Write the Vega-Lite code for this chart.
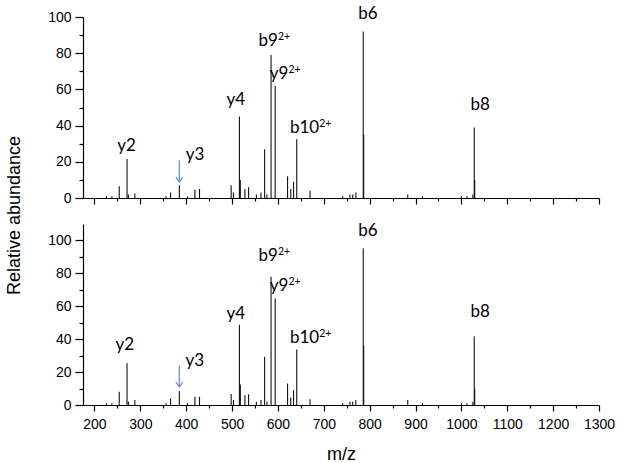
{
  "$schema": "https://vega.github.io/schema/vega-lite/v6.json",
  "padding": {"left": 5, "top": 5, "right": 5, "bottom": 5},
  "background": "white",
  "bounds": "flush",
  "spacing": 26,
  "config": {
    "view": {"stroke": null},
    "axis": {
      "grid": false,
      "domainColor": "#000",
      "tickColor": "#000",
      "labelColor": "#000",
      "titleColor": "#000",
      "labelFont": "Liberation Sans",
      "titleFont": "Liberation Sans",
      "labelFontSize": 14,
      "titleFontSize": 18,
      "titleFontWeight": "normal",
      "domainWidth": 1.2,
      "tickWidth": 1.2,
      "labelOverlap": false,
      "labelFlush": false,
      "format": "d"
    }
  },
  "datasets": {
    "peaksTop": [
      {"mz": 226, "ab": 1}, {"mz": 238, "ab": 1}, {"mz": 254, "ab": 6.5}, {"mz": 271, "ab": 21.5},
      {"mz": 274, "ab": 2}, {"mz": 288, "ab": 2.5}, {"mz": 356, "ab": 1}, {"mz": 366, "ab": 3},
      {"mz": 385, "ab": 7}, {"mz": 403, "ab": 1}, {"mz": 419, "ab": 4.5}, {"mz": 429, "ab": 5},
      {"mz": 498, "ab": 7}, {"mz": 503, "ab": 3}, {"mz": 516, "ab": 45}, {"mz": 518, "ab": 10},
      {"mz": 528, "ab": 5}, {"mz": 536, "ab": 6}, {"mz": 553, "ab": 2}, {"mz": 563, "ab": 3},
      {"mz": 571, "ab": 27}, {"mz": 576, "ab": 2}, {"mz": 585, "ab": 79}, {"mz": 594, "ab": 62},
      {"mz": 621, "ab": 12}, {"mz": 628, "ab": 5}, {"mz": 634, "ab": 9}, {"mz": 641, "ab": 32.5},
      {"mz": 670, "ab": 4}, {"mz": 741, "ab": 1}, {"mz": 757, "ab": 2}, {"mz": 763, "ab": 2},
      {"mz": 770, "ab": 3}, {"mz": 786, "ab": 92}, {"mz": 787, "ab": 35}, {"mz": 883, "ab": 2},
      {"mz": 915, "ab": 1}, {"mz": 1000, "ab": 1}, {"mz": 1012, "ab": 1}, {"mz": 1025, "ab": 2},
      {"mz": 1028, "ab": 39}, {"mz": 1029, "ab": 10}
    ],
    "peaksBottom": [
      {"mz": 226, "ab": 1}, {"mz": 238, "ab": 1}, {"mz": 254, "ab": 8}, {"mz": 271, "ab": 25.6},
      {"mz": 274, "ab": 2}, {"mz": 288, "ab": 3}, {"mz": 356, "ab": 1}, {"mz": 366, "ab": 4},
      {"mz": 385, "ab": 8.5}, {"mz": 403, "ab": 1}, {"mz": 419, "ab": 5}, {"mz": 429, "ab": 5},
      {"mz": 498, "ab": 6.7}, {"mz": 503, "ab": 3}, {"mz": 516, "ab": 48.7}, {"mz": 518, "ab": 12.5},
      {"mz": 528, "ab": 6}, {"mz": 536, "ab": 6.5}, {"mz": 553, "ab": 2}, {"mz": 563, "ab": 3},
      {"mz": 571, "ab": 29.3}, {"mz": 576, "ab": 2}, {"mz": 585, "ab": 78}, {"mz": 594, "ab": 64.7},
      {"mz": 621, "ab": 13}, {"mz": 628, "ab": 4.5}, {"mz": 634, "ab": 9}, {"mz": 641, "ab": 33.7},
      {"mz": 670, "ab": 3.5}, {"mz": 741, "ab": 1}, {"mz": 757, "ab": 2}, {"mz": 763, "ab": 2},
      {"mz": 770, "ab": 3}, {"mz": 786, "ab": 95.3}, {"mz": 787, "ab": 36}, {"mz": 883, "ab": 3},
      {"mz": 915, "ab": 1}, {"mz": 1000, "ab": 1}, {"mz": 1012, "ab": 1}, {"mz": 1025, "ab": 2},
      {"mz": 1028, "ab": 41.8}, {"mz": 1029, "ab": 10}
    ],
    "labelsTop": [
      {"label": "y2", "sup": "", "x": 270, "y": 26},
      {"label": "y3", "sup": "", "x": 419.5, "y": 20.8},
      {"label": "y4", "sup": "", "x": 508, "y": 51.4},
      {"label": "b9", "sup": "2+", "x": 600, "y": 84},
      {"label": "y9", "sup": "2+", "x": 623, "y": 65.6},
      {"label": "b10", "sup": "2+", "x": 690, "y": 36},
      {"label": "b6", "sup": "", "x": 796, "y": 98.7},
      {"label": "b8", "sup": "", "x": 1041, "y": 48.5}
    ],
    "labelsBottom": [
      {"label": "y2", "sup": "", "x": 266, "y": 33.7},
      {"label": "y3", "sup": "", "x": 419, "y": 24},
      {"label": "y4", "sup": "", "x": 508, "y": 52.5},
      {"label": "b9", "sup": "2+", "x": 600, "y": 87.3},
      {"label": "y9", "sup": "2+", "x": 623, "y": 69.5},
      {"label": "b10", "sup": "2+", "x": 690, "y": 37.8},
      {"label": "b6", "sup": "", "x": 796, "y": 103},
      {"label": "b8", "sup": "", "x": 1041, "y": 53.3}
    ],
    "arrowTop": [{"mz": 385, "from": 20.8, "to": 8.8}],
    "arrowBottom": [{"mz": 385, "from": 24, "to": 11}]
  },
  "vconcat": [
    {
      "width": 516,
      "height": 181,
      "resolve": {"axis": {"x": "independent", "y": "independent"}},
      "layer": [
        {
          "data": {"name": "peaksTop"},
          "mark": {"type": "rule", "color": "#111", "strokeWidth": 1.1},
          "encoding": {
            "x": {"field": "mz", "type": "quantitative",
              "scale": {"domain": [175, 1300], "nice": false, "zero": false},
              "axis": {"orient": "bottom", "values": [200, 300, 400, 500, 600, 700, 800, 900, 1000, 1100, 1200, 1300], "labels": false, "title": null, "tickSize": 6}},
            "y": {"field": "ab", "type": "quantitative",
              "scale": {"domain": [0, 100], "nice": false},
              "axis": {"orient": "left", "values": [0, 20, 40, 60, 80, 100], "tickSize": 8, "labelPadding": 4,
                "title": "Relative abundance", "titleY": 198, "titlePadding": 24}},
            "y2": {"datum": 0}
          }
        },
        {
          "data": {"name": "labelsTop"},
          "transform": [{"filter": "datum.sup == ''"}],
          "mark": {"type": "text", "font": "Lato", "fontSize": 17, "align": "center", "baseline": "alphabetic", "color": "#000"},
          "encoding": {
            "x": {"field": "x", "type": "quantitative",
              "axis": {"orient": "bottom", "values": [250, 350, 450, 550, 650, 750, 850, 950, 1050, 1150, 1250], "labels": false, "title": null, "tickSize": 3, "domain": false}},
            "y": {"field": "y", "type": "quantitative",
              "axis": {"orient": "left", "values": [10, 30, 50, 70, 90], "labels": false, "title": null, "tickSize": 4, "domain": false}},
            "text": {"field": "label"}
          }
        },
        {
          "data": {"name": "labelsTop"},
          "transform": [{"filter": "datum.sup != ''"}],
          "mark": {"type": "text", "font": "Lato", "fontSize": 17, "align": "right", "baseline": "alphabetic", "color": "#000"},
          "encoding": {
            "x": {"field": "x", "type": "quantitative", "axis": null},
            "y": {"field": "y", "type": "quantitative", "axis": null},
            "text": {"field": "label"}
          }
        },
        {
          "data": {"name": "labelsTop"},
          "transform": [{"filter": "datum.sup != ''"}],
          "mark": {"type": "text", "font": "Lato", "fontSize": 10.5, "align": "left", "baseline": "alphabetic", "dy": -6, "color": "#000"},
          "encoding": {
            "x": {"field": "x", "type": "quantitative", "axis": null},
            "y": {"field": "y", "type": "quantitative", "axis": null},
            "text": {"field": "sup"}
          }
        },
        {
          "data": {"name": "arrowTop"},
          "mark": {"type": "rule", "color": "#5b8fc7", "strokeWidth": 1.2},
          "encoding": {
            "x": {"field": "mz", "type": "quantitative", "axis": null},
            "y": {"field": "from", "type": "quantitative", "axis": null},
            "y2": {"field": "to"}
          }
        },
        {
          "data": {"name": "arrowTop"},
          "mark": {"type": "point", "shape": "M-1,-1.4L0,0L1,-1.4", "filled": false, "stroke": "#5b8fc7", "strokeWidth": 1.2, "size": 49, "opacity": 1},
          "encoding": {
            "x": {"field": "mz", "type": "quantitative", "axis": null},
            "y": {"field": "to", "type": "quantitative", "axis": null}
          }
        }
      ]
    },
    {
      "width": 516,
      "height": 181,
      "resolve": {"axis": {"x": "independent", "y": "independent"}},
      "layer": [
        {
          "data": {"name": "peaksBottom"},
          "mark": {"type": "rule", "color": "#111", "strokeWidth": 1.1},
          "encoding": {
            "x": {"field": "mz", "type": "quantitative",
              "scale": {"domain": [175, 1300], "nice": false, "zero": false},
              "axis": {"orient": "bottom", "values": [200, 300, 400, 500, 600, 700, 800, 900, 1000, 1100, 1200, 1300], "title": "m/z", "tickSize": 6, "labelPadding": 6, "titlePadding": 14}},
            "y": {"field": "ab", "type": "quantitative",
              "scale": {"domain": [0, 110], "nice": false},
              "axis": {"orient": "left", "values": [0, 20, 40, 60, 80, 100], "tickSize": 8, "labelPadding": 4, "title": null}},
            "y2": {"datum": 0}
          }
        },
        {
          "data": {"name": "labelsBottom"},
          "transform": [{"filter": "datum.sup == ''"}],
          "mark": {"type": "text", "font": "Lato", "fontSize": 17, "align": "center", "baseline": "alphabetic", "color": "#000"},
          "encoding": {
            "x": {"field": "x", "type": "quantitative",
              "axis": {"orient": "bottom", "values": [250, 350, 450, 550, 650, 750, 850, 950, 1050, 1150, 1250], "labels": false, "title": null, "tickSize": 3, "domain": false}},
            "y": {"field": "y", "type": "quantitative",
              "axis": {"orient": "left", "values": [10, 30, 50, 70, 90], "labels": false, "title": null, "tickSize": 4, "domain": false}},
            "text": {"field": "label"}
          }
        },
        {
          "data": {"name": "labelsBottom"},
          "transform": [{"filter": "datum.sup != ''"}],
          "mark": {"type": "text", "font": "Lato", "fontSize": 17, "align": "right", "baseline": "alphabetic", "color": "#000"},
          "encoding": {
            "x": {"field": "x", "type": "quantitative", "axis": null},
            "y": {"field": "y", "type": "quantitative", "axis": null},
            "text": {"field": "label"}
          }
        },
        {
          "data": {"name": "labelsBottom"},
          "transform": [{"filter": "datum.sup != ''"}],
          "mark": {"type": "text", "font": "Lato", "fontSize": 10.5, "align": "left", "baseline": "alphabetic", "dy": -6, "color": "#000"},
          "encoding": {
            "x": {"field": "x", "type": "quantitative", "axis": null},
            "y": {"field": "y", "type": "quantitative", "axis": null},
            "text": {"field": "sup"}
          }
        },
        {
          "data": {"name": "arrowBottom"},
          "mark": {"type": "rule", "color": "#5b8fc7", "strokeWidth": 1.2},
          "encoding": {
            "x": {"field": "mz", "type": "quantitative", "axis": null},
            "y": {"field": "from", "type": "quantitative", "axis": null},
            "y2": {"field": "to"}
          }
        },
        {
          "data": {"name": "arrowBottom"},
          "mark": {"type": "point", "shape": "M-1,-1.4L0,0L1,-1.4", "filled": false, "stroke": "#5b8fc7", "strokeWidth": 1.2, "size": 49, "opacity": 1},
          "encoding": {
            "x": {"field": "mz", "type": "quantitative", "axis": null},
            "y": {"field": "to", "type": "quantitative", "axis": null}
          }
        }
      ]
    }
  ]
}
